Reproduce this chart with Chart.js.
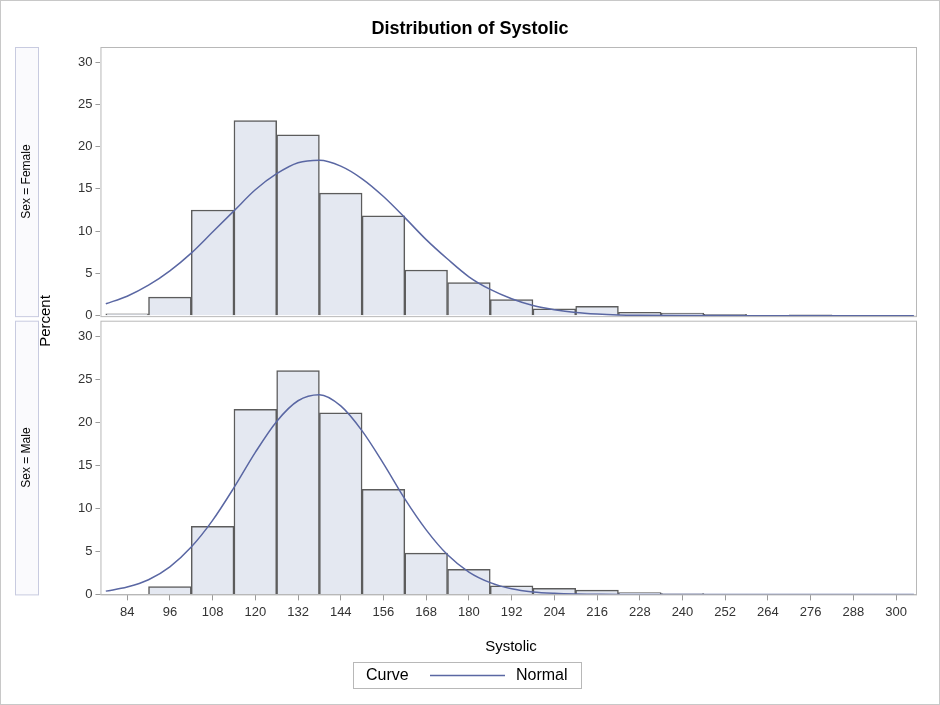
<!DOCTYPE html>
<html><head><meta charset="utf-8">
<script src="https://cdn.jsdelivr.net/npm/chart.js@4"></script>
<style>html,body{margin:0;background:#fff}#wrap{width:940px;height:705px;position:relative}</style>
</head><body><div id="wrap"><canvas id="c"></canvas></div>
<script>
// bin midpoints (bin width 12)
const bins = [84, 96, 108, 120, 132, 144, 156, 168, 180, 192, 204, 216, 228, 240, 252, 264, 276, 288, 300];
const femalePct = [0.2, 2.2, 12.5, 23.1, 21.4, 14.5, 11.8, 5.4, 3.9, 1.9, 0.8, 1.1, 0.4, 0.3, 0.15, 0.05, 0.1, 0.05, 0.05];
const malePct = [0.05, 0.9, 7.9, 21.5, 26.0, 21.1, 12.2, 4.8, 2.9, 1.0, 0.7, 0.5, 0.2, 0.1, 0.05, 0.05, 0.05, 0.05, 0.05];

// normal curve
const curveX = [78, 84, 90, 96, 102, 108, 114, 120, 126, 132, 138, 144, 150, 156, 162, 168, 174, 180, 186, 192, 198, 204, 210, 216, 222, 228, 240, 260, 280, 305];
const femaleCurve = [1.4, 2.3, 3.6, 5.3, 7.4, 9.9, 12.4, 14.9, 16.8, 18.1, 18.4, 17.7, 16.2, 14.1, 11.6, 9.0, 6.7, 4.6, 3.1, 2.0, 1.2, 0.7, 0.36, 0.18, 0.08, 0.04, 0.01, 0, 0, 0];
const maleCurve = [0.38, 0.85, 1.7, 3.2, 5.5, 8.6, 12.4, 16.5, 20.1, 22.5, 23.2, 21.9, 19.0, 15.2, 11.1, 7.5, 4.6, 2.6, 1.37, 0.66, 0.29, 0.12, 0.04, 0.015, 0, 0, 0, 0, 0, 0];

const xTicks = [84, 96, 108, 120, 132, 144, 156, 168, 180, 192, 204, 216, 228, 240, 252, 264, 276, 288, 300];
const yTicks = [0, 5, 10, 15, 20, 25, 30];

const barFill = '#e4e8f1', barLine = '#5c5c5c', curveColor = '#5a67a3';
const font = 'Liberation Sans, Arial, sans-serif';

const pts = (xs, ys) => xs.map((x, i) => ({ x: x, y: ys[i] }));

const decor = {
  id: 'decor',
  afterDraw(chart) {
    const ctx = chart.ctx, a = chart.chartArea, yF = chart.scales.yF, yM = chart.scales.yM;
    ctx.save();
    // panel frames
    ctx.strokeStyle = '#b8b8b8'; ctx.lineWidth = 1;
    const fTop = yF.top, fBot = yF.getPixelForValue(0) + 0.5;
    const mTop = yM.top, mBot = yM.bottom;
    ctx.strokeRect(a.left + 0.5, fTop + 0.5, a.right - a.left, fBot - fTop);
    ctx.strokeRect(a.left + 0.5, mTop + 0.5, a.right - a.left, mBot - mTop);
    // outer frame
    ctx.strokeStyle = '#c8c8c8';
    ctx.strokeRect(0.5, 0.5, 939, 704);
    // title
    ctx.fillStyle = '#000'; ctx.textAlign = 'center'; ctx.textBaseline = 'middle';
    ctx.font = 'bold 18px ' + font;
    ctx.fillText('Distribution of Systolic', 470, 29);
    // strips
    ctx.font = '12px ' + font;
    [['Sex = Female', fTop, fBot], ['Sex = Male', mTop, mBot]].forEach(s => {
      ctx.fillStyle = '#fafafd'; ctx.strokeStyle = '#c8cbe0';
      ctx.fillRect(15.5, s[1] + 0.5, 23, s[2] - s[1]);
      ctx.strokeRect(15.5, s[1] + 0.5, 23, s[2] - s[1]);
      ctx.save(); ctx.translate(27, (s[1] + s[2]) / 2); ctx.rotate(-Math.PI / 2);
      ctx.fillStyle = '#000'; ctx.fillText(s[0], 0, 0); ctx.restore();
    });
    ctx.fillStyle = '#000';
    // y title
    ctx.font = '15px ' + font;
    ctx.save(); ctx.translate(46, 321); ctx.rotate(-Math.PI / 2);
    ctx.fillText('Percent', 0, 0); ctx.restore();
    // x title
    ctx.fillText('Systolic', 511, 647);
    // legend
    ctx.strokeStyle = '#b8b8b8';
    ctx.strokeRect(353.5, 662.5, 228, 26);
    ctx.font = '16px ' + font; ctx.textAlign = 'left';
    ctx.fillText('Curve', 366, 676);
    ctx.fillText('Normal', 516, 676);
    ctx.strokeStyle = curveColor; ctx.lineWidth = 1.5;
    ctx.beginPath(); ctx.moveTo(430, 675.5); ctx.lineTo(505, 675.5); ctx.stroke();
    ctx.restore();
  }
};

const yAxis = (min, max) => ({
  type: 'linear', stack: 'panels', stackWeight: 1, position: 'left', min: min, max: max,
  afterBuildTicks: ax => { ax.ticks = yTicks.map(v => ({ value: v })); },
  grid: { drawOnChartArea: false, tickLength: 5, color: '#9a9a9a' },
  border: { display: false },
  ticks: { font: { family: font, size: 13 }, color: '#333', padding: 3 }
});

new Chart(document.getElementById('c'), {
  data: {
    datasets: [
      { type: 'bar', data: pts(bins, femalePct), yAxisID: 'yF', backgroundColor: barFill, borderColor: barLine, borderWidth: 1.5, grouped: false, barPercentage: 1, categoryPercentage: 1, order: 2 },
      { type: 'bar', data: pts(bins, malePct), yAxisID: 'yM', backgroundColor: barFill, borderColor: barLine, borderWidth: 1.5, grouped: false, barPercentage: 1, categoryPercentage: 1, order: 2 },
      { type: 'line', data: pts(curveX, femaleCurve), yAxisID: 'yF', borderColor: curveColor, borderWidth: 1.5, pointRadius: 0, cubicInterpolationMode: 'monotone', order: 1 },
      { type: 'line', data: pts(curveX, maleCurve), yAxisID: 'yM', borderColor: curveColor, borderWidth: 1.5, pointRadius: 0, cubicInterpolationMode: 'monotone', order: 1 }
    ]
  },
  options: {
    responsive: true, maintainAspectRatio: false, animation: false,
    layout: { padding: { left: 75, right: 24, top: 47, bottom: 81 } },
    plugins: { legend: { display: false }, tooltip: { enabled: false } },
    scales: {
      x: {
        type: 'linear', min: 76.5, max: 305.6, offset: false,
        afterBuildTicks: ax => { ax.ticks = xTicks.map(v => ({ value: v })); },
        grid: { drawOnChartArea: false, offset: false, tickLength: 6, color: '#9a9a9a' },
        border: { color: '#b8b8b8' },
        ticks: { font: { family: font, size: 13 }, color: '#333', maxRotation: 0, autoSkip: false, padding: 4 }
      },
      yM: yAxis(0, 31.8),
      yF: yAxis(-0.6, 31.8)
    }
  },
  plugins: [decor]
});
</script></body></html>
